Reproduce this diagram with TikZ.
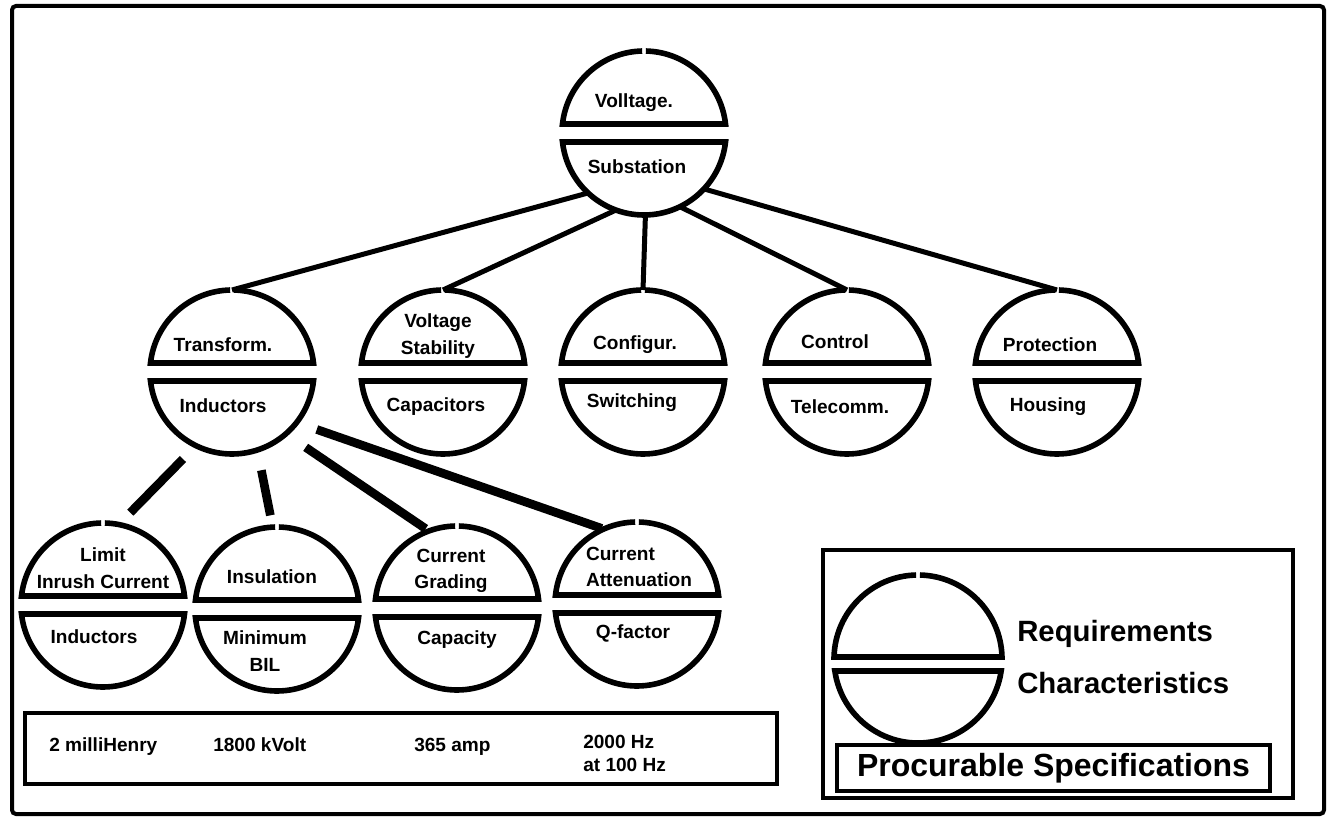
\documentclass[tikz,border=0pt]{standalone}
\usepackage{fontspec}
\setmainfont{Liberation Sans}
% split disc: requirement on top, characteristic below, notch at the top
% #1 name, #2 x, #3 y, #4 upper text, #5/#6 its shift, #7 lower text, #8/#9 its shift
\newcommand{\splitdisc}[9]{%
  \node[hub] (#1) at (#2,#3) {};
  \draw[discline] (#1.center) ++(91.3:82) arc[start angle=91.3,end angle=173.7,radius=82]
     -- ++(163,0) arc[start angle=6.3,end angle=88.7,radius=82];
  \draw[discline] (#1.center) ++(-173.7:82) arc[start angle=-173.7,end angle=-6.3,radius=82] -- cycle;
  \node[lbl] (#1-up) at ([xshift=#5*0.75pt, yshift=#6*0.75pt]#1.center) {#4};
  \node[lbl] (#1-lo) at ([xshift=#8*0.75pt, yshift=#9*0.75pt]#1.center) {#7};
}
\begin{document}
\begin{tikzpicture}[x=0.75pt,y=0.75pt,
  hub/.style={circle, minimum size=123pt, inner sep=0pt, outer sep=0pt},
  discline/.style={line width=4.2pt, line join=miter, black},
  lbl/.style={font=\bfseries\fontsize{14.3}{20}\selectfont, align=center, inner sep=0pt},
  spectext/.style={font=\bfseries\fontsize{14.3}{17}\selectfont, align=left, inner sep=0pt},
  keytext/.style={font=\bfseries\fontsize{22}{26}\selectfont, inner sep=0pt},
  branch/.style={line width=3.75pt, black},
  twig/.style={line width=6.5pt, black},
  frame/.style={line width=3pt, rounded corners=3pt, black},
  box/.style={draw, line width=3pt, inner sep=0pt, outer sep=0pt}]
\useasboundingbox (0,0) rectangle (1334,818);

% outer frame
\draw[frame] (12,812) rectangle (1324,4);

% tree of requirements
\splitdisc{top}{644}{685}{Volltage.}{-10}{30}{Substation}{-7}{-34}
\splitdisc{tr}{232}{446}{Transform.}{-9}{27}{Inductors}{-9}{-34}
\splitdisc{vs}{443}{446}{Voltage\\Stability}{-5}{36}{Capacitors}{-7}{-35}
\splitdisc{cf}{643}{446}{Configur.}{-8}{27}{Switching}{-11}{-31}
\splitdisc{ct}{847}{446}{Control}{-12}{30}{Telecomm.}{-7}{-35}
\splitdisc{pr}{1057}{446}{Protection}{-7}{27}{Housing}{-9}{-35}
\splitdisc{lim}{103}{213}{Limit\\Inrush Current}{0}{37}{Inductors}{-9}{-32}
\splitdisc{ins}{277}{209}{Insulation}{-5}{32}{Minimum\\BIL}{-12}{-42}
\splitdisc{grd}{457}{210}{Current\\Grading}{-6}{37}{Capacity}{0}{-32}
\splitdisc{att}{637}{214}{\begin{tabular}{@{}l@{}}Current\\Attenuation\end{tabular}}{2}{36}{Q-factor}{-4}{-29}

% branches from the substation
\draw[branch] (top.-133) -- (tr.north);
\draw[branch] (top.-110) -- (vs.north);
\draw[branch] (top.-89) -- (cf.north);
\draw[branch] (top.-64) -- (ct.north);
\draw[branch] (top.-43) -- (pr.north);

% branches from the transformer
\draw[twig, shorten <=14pt, shorten >=12.5pt] (tr.-116) -- (lim.79);
\draw[twig, shorten <=15.5pt, shorten >=9pt] (tr.-72) -- (ins.93);
\draw[twig, shorten <=18pt, shorten >=3pt] (tr.-49) -- (grd.110);
\draw[twig, shorten <=16pt, shorten >=1.5pt] (tr.-38) -- (att.114);

% procurable specifications
\node[box, minimum width=564pt, minimum height=53.25pt] (specs) at (401,69.5) {};
\node[spectext, anchor=base west] (s1) at (49,67) {2 milliHenry};
\node[spectext, anchor=base west] (s2) at (213,67) {1800 kVolt};
\node[spectext, anchor=base west] (s3) at (414,67) {365 amp};
\node[spectext, anchor=base west] (s4) at (583,70) {2000 Hz};
\node[spectext, anchor=base west] (s5) at (583,47) {at 100 Hz};

% key
\node[box, line width=3.5pt, minimum width=352.5pt, minimum height=186pt] (legend) at (1058,144) {};
\node[hub, minimum size=126pt] (key) at (918,159) {};
\draw[discline] (key.center) ++(91.3:84) arc[start angle=91.3,end angle=178.6,radius=84]
   -- ++(167.95,0) arc[start angle=1.4,end angle=88.7,radius=84];
\draw[discline] (key.center) ++(-171.8:84) arc[start angle=-171.8,end angle=-8.2,radius=84] -- cycle;
\node[keytext, anchor=base west] (req) at (1017,176.5) {Requirements};
\node[keytext, anchor=base west] (chr) at (1017,124.5) {Characteristics};
\node[box, minimum width=324.75pt, minimum height=34.5pt,
      font=\bfseries\fontsize{24}{28}\selectfont] (proc) at (1053.5,50) {Procurable Specifications};
\end{tikzpicture}
\end{document}
